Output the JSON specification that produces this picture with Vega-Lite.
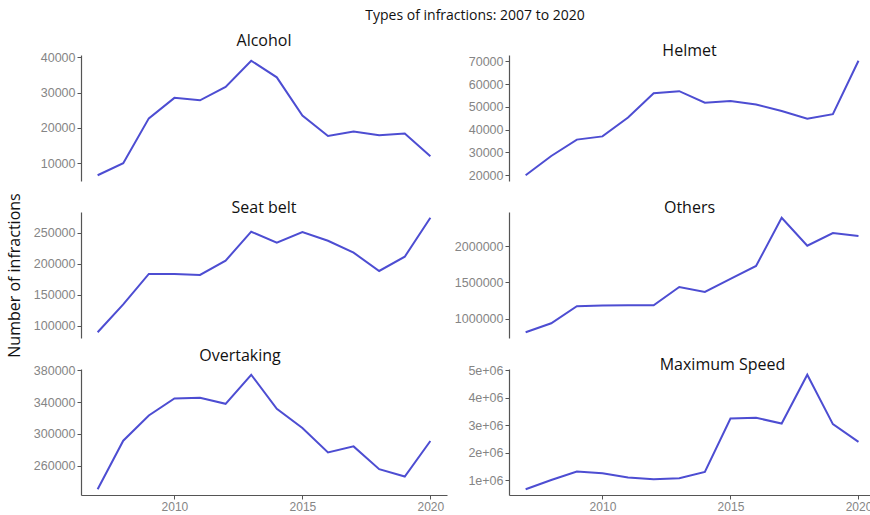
{
  "$schema": "https://vega.github.io/schema/vega-lite/v6.json",
  "padding": {"left": 6, "top": 9, "right": 0, "bottom": 0},
  "background": "white",
  "title": {"text": "Types of infractions: 2007 to 2020", "font": "Open Sans", "fontSize": 14, "fontWeight": "normal", "color": "#111", "anchor": "middle", "frame": "bounds", "dx": 36, "offset": 10},
  "data": {"values": [
    {"type": "Alcohol", "year": 2007, "count": 6600},
    {"type": "Alcohol", "year": 2008, "count": 10000},
    {"type": "Alcohol", "year": 2009, "count": 22700},
    {"type": "Alcohol", "year": 2010, "count": 28500},
    {"type": "Alcohol", "year": 2011, "count": 27800},
    {"type": "Alcohol", "year": 2012, "count": 31600},
    {"type": "Alcohol", "year": 2013, "count": 39000},
    {"type": "Alcohol", "year": 2014, "count": 34300},
    {"type": "Alcohol", "year": 2015, "count": 23500},
    {"type": "Alcohol", "year": 2016, "count": 17700},
    {"type": "Alcohol", "year": 2017, "count": 19000},
    {"type": "Alcohol", "year": 2018, "count": 17900},
    {"type": "Alcohol", "year": 2019, "count": 18400},
    {"type": "Alcohol", "year": 2020, "count": 12000},
    {"type": "Helmet", "year": 2007, "count": 19900},
    {"type": "Helmet", "year": 2008, "count": 28400},
    {"type": "Helmet", "year": 2009, "count": 35600},
    {"type": "Helmet", "year": 2010, "count": 37000},
    {"type": "Helmet", "year": 2011, "count": 45300},
    {"type": "Helmet", "year": 2012, "count": 56000},
    {"type": "Helmet", "year": 2013, "count": 56900},
    {"type": "Helmet", "year": 2014, "count": 51800},
    {"type": "Helmet", "year": 2015, "count": 52600},
    {"type": "Helmet", "year": 2016, "count": 51000},
    {"type": "Helmet", "year": 2017, "count": 48200},
    {"type": "Helmet", "year": 2018, "count": 44800},
    {"type": "Helmet", "year": 2019, "count": 46800},
    {"type": "Helmet", "year": 2020, "count": 70300},
    {"type": "Seat belt", "year": 2007, "count": 89800},
    {"type": "Seat belt", "year": 2008, "count": 134800},
    {"type": "Seat belt", "year": 2009, "count": 183600},
    {"type": "Seat belt", "year": 2010, "count": 183600},
    {"type": "Seat belt", "year": 2011, "count": 182000},
    {"type": "Seat belt", "year": 2012, "count": 205000},
    {"type": "Seat belt", "year": 2013, "count": 251600},
    {"type": "Seat belt", "year": 2014, "count": 233900},
    {"type": "Seat belt", "year": 2015, "count": 251000},
    {"type": "Seat belt", "year": 2016, "count": 237100},
    {"type": "Seat belt", "year": 2017, "count": 217900},
    {"type": "Seat belt", "year": 2018, "count": 188400},
    {"type": "Seat belt", "year": 2019, "count": 211400},
    {"type": "Seat belt", "year": 2020, "count": 274100},
    {"type": "Others", "year": 2007, "count": 817000},
    {"type": "Others", "year": 2008, "count": 940600},
    {"type": "Others", "year": 2009, "count": 1173500},
    {"type": "Others", "year": 2010, "count": 1182600},
    {"type": "Others", "year": 2011, "count": 1187000},
    {"type": "Others", "year": 2012, "count": 1187000},
    {"type": "Others", "year": 2013, "count": 1438400},
    {"type": "Others", "year": 2014, "count": 1369900},
    {"type": "Others", "year": 2015, "count": 1548000},
    {"type": "Others", "year": 2016, "count": 1726000},
    {"type": "Others", "year": 2017, "count": 2388000},
    {"type": "Others", "year": 2018, "count": 2004600},
    {"type": "Others", "year": 2019, "count": 2178000},
    {"type": "Others", "year": 2020, "count": 2137000},
    {"type": "Overtaking", "year": 2007, "count": 230500},
    {"type": "Overtaking", "year": 2008, "count": 291600},
    {"type": "Overtaking", "year": 2009, "count": 323200},
    {"type": "Overtaking", "year": 2010, "count": 344600},
    {"type": "Overtaking", "year": 2011, "count": 345500},
    {"type": "Overtaking", "year": 2012, "count": 337900},
    {"type": "Overtaking", "year": 2013, "count": 374500},
    {"type": "Overtaking", "year": 2014, "count": 331600},
    {"type": "Overtaking", "year": 2015, "count": 307600},
    {"type": "Overtaking", "year": 2016, "count": 276800},
    {"type": "Overtaking", "year": 2017, "count": 284400},
    {"type": "Overtaking", "year": 2018, "count": 255800},
    {"type": "Overtaking", "year": 2019, "count": 246500},
    {"type": "Overtaking", "year": 2020, "count": 291200},
    {"type": "Maximum Speed", "year": 2007, "count": 673000},
    {"type": "Maximum Speed", "year": 2008, "count": 1010000},
    {"type": "Maximum Speed", "year": 2009, "count": 1315000},
    {"type": "Maximum Speed", "year": 2010, "count": 1255000},
    {"type": "Maximum Speed", "year": 2011, "count": 1097000},
    {"type": "Maximum Speed", "year": 2012, "count": 1036000},
    {"type": "Maximum Speed", "year": 2013, "count": 1073000},
    {"type": "Maximum Speed", "year": 2014, "count": 1303000},
    {"type": "Maximum Speed", "year": 2015, "count": 3242000},
    {"type": "Maximum Speed", "year": 2016, "count": 3267000},
    {"type": "Maximum Speed", "year": 2017, "count": 3060000},
    {"type": "Maximum Speed", "year": 2018, "count": 4830000},
    {"type": "Maximum Speed", "year": 2019, "count": 3036000},
    {"type": "Maximum Speed", "year": 2020, "count": 2394000}
  ]},
  "columns": 2,
  "bounds": "flush",
  "spacing": {"row": 31, "column": 62},
  "concat": [
    {
      "title": {"text": "Alcohol", "offset": 2},
      "width": 366, "height": 126,
      "transform": [{"filter": "datum.type === 'Alcohol'"}],
      "mark": {"type": "line", "color": "#4d4dd2", "strokeWidth": 2},
      "encoding": {
        "x": {"field": "year", "type": "quantitative", "scale": {"domain": [2006.35, 2020.65], "nice": false, "zero": false}, "axis": null},
        "y": {"field": "count", "type": "quantitative", "scale": {"domain": [4980, 40620], "nice": false, "zero": false}, "axis": {"values": [10000, 20000, 30000, 40000], "format": "d", "title": null}}
      }
    },
    {
      "title": {"text": "Helmet", "offset": -4},
      "width": 361, "height": 126,
      "transform": [{"filter": "datum.type === 'Helmet'"}],
      "mark": {"type": "line", "color": "#4d4dd2", "strokeWidth": 2},
      "encoding": {
        "x": {"field": "year", "type": "quantitative", "scale": {"domain": [2006.35, 2020.45], "nice": false, "zero": false}, "axis": null},
        "y": {"field": "count", "type": "quantitative", "scale": {"domain": [17380, 72820], "nice": false, "zero": false}, "axis": {"values": [20000, 30000, 40000, 50000, 60000, 70000], "format": "d", "title": null}}
      }
    },
    {
      "title": {"text": "Seat belt", "offset": -23},
      "width": 366, "height": 126,
      "transform": [{"filter": "datum.type === 'Seat belt'"}],
      "mark": {"type": "line", "color": "#4d4dd2", "strokeWidth": 2},
      "encoding": {
        "x": {"field": "year", "type": "quantitative", "scale": {"domain": [2006.35, 2020.65], "nice": false, "zero": false}, "axis": null},
        "y": {"field": "count", "type": "quantitative", "scale": {"domain": [80585, 283315], "nice": false, "zero": false}, "axis": {"values": [100000, 150000, 200000, 250000], "format": "d", "title": "Number of infractions", "titleFont": "Open Sans", "titleFontSize": 16, "titleFontWeight": "normal", "titleColor": "#111", "titlePadding": 11}}
      }
    },
    {
      "title": {"text": "Others", "offset": -4},
      "width": 361, "height": 126,
      "transform": [{"filter": "datum.type === 'Others'"}],
      "mark": {"type": "line", "color": "#4d4dd2", "strokeWidth": 2},
      "encoding": {
        "x": {"field": "year", "type": "quantitative", "scale": {"domain": [2006.35, 2020.45], "nice": false, "zero": false}, "axis": null},
        "y": {"field": "count", "type": "quantitative", "scale": {"domain": [738450, 2466550], "nice": false, "zero": false}, "axis": {"values": [1000000, 1500000, 2000000], "format": "d", "title": null}}
      }
    },
    {
      "title": {"text": "Overtaking", "offset": 0, "dx": -24},
      "width": 366, "height": 126,
      "transform": [{"filter": "datum.type === 'Overtaking'"}],
      "mark": {"type": "line", "color": "#4d4dd2", "strokeWidth": 2},
      "encoding": {
        "x": {"field": "year", "type": "quantitative", "scale": {"domain": [2006.35, 2020.65], "nice": false, "zero": false}, "axis": {"values": [2010, 2015, 2020], "format": "d", "title": null, "labelFontSize": 12}},
        "y": {"field": "count", "type": "quantitative", "scale": {"domain": [223300, 381700], "nice": false, "zero": false}, "axis": {"values": [260000, 300000, 340000, 380000], "format": "d", "title": null}}
      }
    },
    {
      "title": {"text": "Maximum Speed", "offset": -9, "dx": 33},
      "width": 361, "height": 126,
      "transform": [{"filter": "datum.type === 'Maximum Speed'"}],
      "mark": {"type": "line", "color": "#4d4dd2", "strokeWidth": 2},
      "encoding": {
        "x": {"field": "year", "type": "quantitative", "scale": {"domain": [2006.35, 2020.45], "nice": false, "zero": false}, "axis": {"values": [2010, 2015, 2020], "format": "d", "title": null, "labelFontSize": 12}},
        "y": {"field": "count", "type": "quantitative", "scale": {"domain": [465150, 5037850], "nice": false, "zero": false}, "axis": {"values": [1000000, 2000000, 3000000, 4000000, 5000000], "labelExpr": "replace(format(datum.value, '.0e'), '+', '+0')", "title": null}}
      }
    }
  ],
  "config": {
    "view": {"stroke": null},
    "title": {"font": "Open Sans", "fontSize": 16, "fontWeight": "normal", "color": "#111", "anchor": "middle", "frame": "group"},
    "axis": {
      "grid": false,
      "domainColor": "#555",
      "domainWidth": 1.2,
      "tickColor": "#555",
      "tickSize": 4,
      "labelColor": "#858585",
      "labelFont": "Liberation Sans",
      "labelFontSize": 12.5,
      "labelPadding": 2
    }
  }
}
